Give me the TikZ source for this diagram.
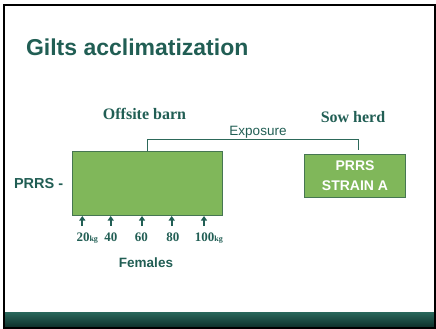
\documentclass[tikz,border=0pt]{standalone}
\usepackage{fontspec}
\setmainfont{Liberation Serif}
\newfontfamily\arialf{Liberation Sans}
\usetikzlibrary{arrows.meta}
\definecolor{tealdark}{RGB}{33,94,84}
\definecolor{tealline}{RGB}{45,105,90}
\definecolor{boxgreen}{RGB}{128,183,90}
\definecolor{boxedge}{RGB}{70,118,82}
\definecolor{foottop}{RGB}{42,104,92}
\definecolor{footbot}{RGB}{14,48,42}
\tikzset{
  txt/.style={inner sep=0pt, outer sep=0pt, anchor=base, text=tealdark},
  greenbox/.style={draw=boxedge, fill=boxgreen, line width=1pt, inner sep=0pt},
  uparrow/.style={draw=tealdark, line width=2pt, -{Triangle[width=6pt,length=4.5pt]}},
  bracket/.style={draw=tealline, line width=0.9pt},
}
\begin{document}
\begin{tikzpicture}[x=1pt,y=-1pt]
\useasboundingbox (0,0) rectangle (436,329);
% footer band and frame
\shade[top color=foottop, bottom color=footbot] (4,312) rectangle (434,327);
\draw[line width=2pt] (4,5) rectangle (435,328);
% title
\node[txt, anchor=base west] (title) at (26,55.5) {\arialf\bfseries\fontsize{23}{27}\selectfont Gilts acclimatization};
% headings
\node[txt] (offsite) at (144.5,119) {\bfseries\fontsize{16}{19}\selectfont Offsite barn};
\node[txt] (sowherd) at (353,122.5) {\bfseries\fontsize{16}{19}\selectfont Sow herd};
\node[txt] (expo) at (258,135) {\arialf\fontsize{13.5}{16}\selectfont Exposure};
% boxes
\node[greenbox, minimum width=150.5pt, minimum height=64.5pt, anchor=north west] (barn) at (71.7,150.5) {};
\node[greenbox, minimum width=101pt, minimum height=42.5pt, anchor=north west] (sow) at (304,154) {};
\node[txt, text=white] (prrsA) at (355,170.7) {\arialf\bfseries\fontsize{14}{17}\selectfont PRRS};
\node[txt, text=white] (strainA) at (355,190) {\arialf\bfseries\fontsize{14}{17}\selectfont STRAIN A};
\node[txt, anchor=base west] (prrsneg) at (14,188.5) {\arialf\bfseries\fontsize{14.5}{17}\selectfont PRRS -};
% exposure bracket
\coordinate (sowtap) at (358.3,150);
\draw[bracket] (barn.north) -- ++(0,-11) -| (sowtap);
% weight arrows
\foreach \xx/\nm in {82.3/a,110.7/b,142/c,171.7/d,204/e}{
  \coordinate (t\nm) at (\xx,226);
  \draw[uparrow] (t\nm) -- (t\nm |- barn.south);
}
\node[txt] (w20) at (83,241) {\bfseries\fontsize{13}{15}\selectfont 20\rlap{\fontsize{8}{9}\selectfont kg}};
\node[txt] (w40) at (110.8,241) {\bfseries\fontsize{13}{15}\selectfont 40};
\node[txt] (w60) at (141.3,241) {\bfseries\fontsize{13}{15}\selectfont 60};
\node[txt] (w80) at (172.8,241) {\bfseries\fontsize{13}{15}\selectfont 80};
\node[txt] (w100) at (204.7,241) {\bfseries\fontsize{13}{15}\selectfont 100\rlap{\fontsize{8}{9}\selectfont kg}};
\node[txt] (fem) at (146,267.7) {\arialf\bfseries\fontsize{13.5}{16}\selectfont Females};
\end{tikzpicture}
\end{document}
